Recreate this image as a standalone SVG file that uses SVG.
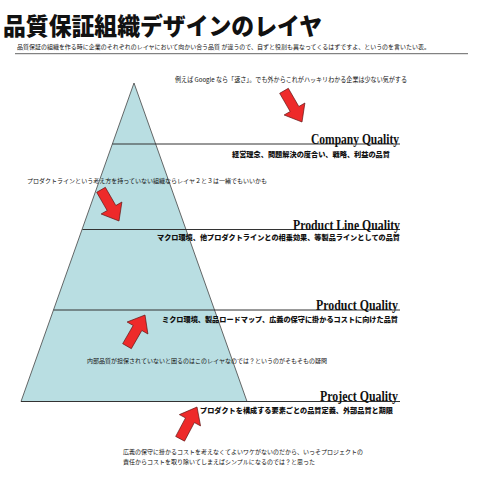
<svg xmlns="http://www.w3.org/2000/svg" width="480" height="480" viewBox="0 0 480 480">
<style>
.jp{font-family:"Noto Sans CJK JP","Noto Sans CJK SC",sans-serif;fill:#111}
.note{font-size:6px}
.desc{font-size:7.2px;font-weight:900}
.head{font-family:"Liberation Serif","DejaVu Serif",serif;font-weight:bold;font-size:15px;fill:#111}
.ln{stroke:#333;stroke-width:1;fill:none}
.arrow{fill:#EE2A2A;stroke:#5a1010;stroke-width:0.6;stroke-linejoin:miter}
</style>
<defs>
<path id="arr" d="M0,0 L-15,-12 L-15,-5 L-36,-5 L-36,5 L-15,5 L-15,12 Z"/>
</defs>
<rect width="480" height="480" fill="#fff"/>
<g id="title">
<text class="jp" x="3" y="35" font-size="24" font-weight="900" textLength="319" lengthAdjust="spacingAndGlyphs">品質保証組織デザインのレイヤ</text>
<text class="jp note" x="17" y="49" textLength="413" lengthAdjust="spacingAndGlyphs">品質保証の組織を作る時に企業のそれぞれのレイヤにおいて向かい合う品質 が違うので、自ずと役割も異なってくるはずですよ、というのを言いたい表。</text>
<line x1="15" y1="53.7" x2="468" y2="53.7" stroke="#666" stroke-width="1"/>
</g>
<g id="pyramid">
<polygon points="134,83 247,401.5 21,401.5" fill="#B9DEE2" stroke="#444" stroke-width="0.8"/>
</g>
<g id="layer-company">
<line class="ln" x1="112.4" y1="144" x2="400" y2="144"/>
<text class="head" x="311" y="144" textLength="88" lengthAdjust="spacingAndGlyphs">Company Quality</text>
<text class="jp desc" x="232" y="156.7" textLength="158" lengthAdjust="spacingAndGlyphs">経営理念、問題解決の度合い、戦略、利益の品質</text>
</g>
<g id="layer-productline">
<line class="ln" x1="82.4" y1="229.5" x2="400" y2="229.5"/>
<text class="head" x="293" y="230" textLength="107" lengthAdjust="spacingAndGlyphs">Product Line Quality</text>
<text class="jp desc" x="157" y="240" textLength="243" lengthAdjust="spacingAndGlyphs">マクロ環境、他プロダクトラインとの相乗効果、等製品ラインとしての品質</text>
</g>
<g id="layer-product">
<line class="ln" x1="53.6" y1="310" x2="400" y2="310"/>
<text class="head" x="316" y="310" textLength="82" lengthAdjust="spacingAndGlyphs">Product Quality</text>
<text class="jp desc" x="162" y="322" textLength="236" lengthAdjust="spacingAndGlyphs">ミクロ環境、製品ロードマップ、広義の保守に掛かるコストに向けた品質</text>
</g>
<g id="layer-project">
<line class="ln" x1="21" y1="401.5" x2="400" y2="401.5"/>
<text class="head" x="320" y="401" textLength="78" lengthAdjust="spacingAndGlyphs">Project Quality</text>
<text class="jp desc" x="200" y="413.4" textLength="193" lengthAdjust="spacingAndGlyphs">プロダクトを構成する要素ごとの品質定義、外部品質と期限</text>
</g>
<g id="notes">
<text class="jp" x="175" y="81.5" font-size="6.5" textLength="232" lengthAdjust="spacingAndGlyphs">例えば Google なら「速さ」。でも外からこれがハッキリわかる企業は少ない気がする</text>
<text class="jp note" x="27" y="183" textLength="240" lengthAdjust="spacingAndGlyphs">プロダクトラインという考え方を持っていない組織ならレイヤ２と３は一緒でもいいかも</text>
<text class="jp note" x="87" y="363" textLength="240" lengthAdjust="spacingAndGlyphs">内部品質が担保されていないと困るのはこのレイヤなのでは？というのがそもそもの疑問</text>
<text class="jp note" x="123" y="454" textLength="240" lengthAdjust="spacingAndGlyphs">広義の保守に掛かるコストを考えなくてよいワケがないのだから、いっそプロジェクトの</text>
<text class="jp note" x="123" y="464" textLength="192" lengthAdjust="spacingAndGlyphs">責任からコストを取り除いてしまえばシンプルになるのでは？と思った</text>
</g>
<g id="arrows">
<use href="#arr" class="arrow" transform="translate(302,122) rotate(60)"/>
<use href="#arr" class="arrow" transform="translate(119,221) rotate(60)"/>
<use href="#arr" class="arrow" transform="translate(145,315) rotate(-60)"/>
<use href="#arr" class="arrow" transform="translate(197,407) rotate(-62)"/>
</g>
</svg>
